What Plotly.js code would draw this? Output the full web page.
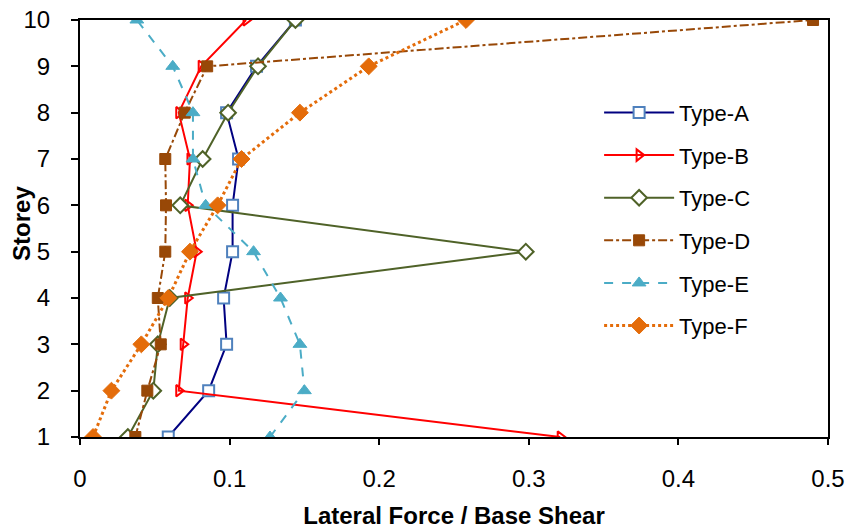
<!DOCTYPE html>
<html>
<head>
<meta charset="utf-8">
<script src="https://cdn.plot.ly/plotly-3.0.1.min.js"></script>
<style>body{margin:0;padding:0;background:#fff;}#chart{width:855px;height:531px;}</style>
</head>
<body>
<div id="chart"></div>
<script>
const storeys = [1, 2, 3, 4, 5, 6, 7, 8, 9, 10];
const typeA = [0.059, 0.086, 0.098, 0.096, 0.102, 0.102, 0.106, 0.098, 0.118, 0.144];
const typeB = [0.321, 0.066, 0.069, 0.072, 0.078, 0.072, 0.0735, 0.066, 0.081, 0.111];
const typeC = [0.032, 0.049, 0.052, 0.060, 0.298, 0.067, 0.082, 0.099, 0.119, 0.144];
const typeD = [0.037, 0.045, 0.054, 0.052, 0.057, 0.0575, 0.057, 0.070, 0.085, 0.490];
const typeE = [0.127, 0.150, 0.147, 0.134, 0.116, 0.084, 0.0755, 0.0755, 0.062, 0.038];
const typeF = [0.0087, 0.021, 0.041, 0.059, 0.0735, 0.092, 0.108, 0.147, 0.193, 0.258];
const names = ["Type-A", "Type-B", "Type-C", "Type-D", "Type-E", "Type-F"];
const xTicks = [0, 0.1, 0.2, 0.3, 0.4, 0.5];
const xTickText = ["0", "0.1", "0.2", "0.3", "0.4", "0.5"];
const yTicks = [1, 2, 3, 4, 5, 6, 7, 8, 9, 10];
const yTitle = "Storey";
const xTitle = "Lateral Force / Base Shear";

const series = [typeA, typeB, typeC, typeD, typeE, typeF];
const styles = [
  {line: {color: '#000080', width: 2, dash: 'solid'}, marker: {symbol: 'square', size: 11, color: '#ffffff', line: {color: '#4F81BD', width: 2}}},
  {line: {color: '#FF0000', width: 2, dash: 'solid'}, marker: {symbol: 'triangle-right-open', size: 10, color: '#FF0000', line: {color: '#FF0000', width: 2}}},
  {line: {color: '#4F6228', width: 2, dash: 'solid'}, marker: {symbol: 'diamond', size: 12, color: '#ffffff', line: {color: '#4F6228', width: 2}}},
  {line: {color: '#984807', width: 2, dash: 'dashdot'}, marker: {symbol: 'square', size: 11, color: '#984807', line: {color: '#984807', width: 1}}},
  {line: {color: '#4BACC6', width: 2, dash: 'dash'}, marker: {symbol: 'triangle-up', size: 12, color: '#4BACC6', line: {color: '#4BACC6', width: 1}}},
  {line: {color: '#E46C0A', width: 3, dash: 'dot'}, marker: {symbol: 'diamond', size: 13, color: '#E46C0A', line: {color: '#E46C0A', width: 1}}}
];

const traces = series.map((s, i) => ({
  x: s, y: storeys, type: 'scatter', mode: 'lines+markers', name: names[i],
  legendgroup: names[i],
  line: styles[i].line, marker: styles[i].marker
}));

const layout = {
  width: 855, height: 531,
  margin: {l: 80, r: 27, t: 20, b: 94},
  paper_bgcolor: '#fff', plot_bgcolor: '#fff',
  font: {family: 'Liberation Sans, Arial, sans-serif', color: '#000'},
  showlegend: true,
  legend: {x: 0.694, y: 0.828, xanchor: 'left', yanchor: 'top', font: {size: 22}, itemwidth: 70, tracegroupgap: 11, bgcolor: 'rgba(0,0,0,0)'},
  xaxis: {
    range: [0, 0.5], tickvals: xTicks, ticktext: xTickText,
    showgrid: false, zeroline: false, showline: true, linecolor: '#000', linewidth: 2, mirror: true,
    ticks: 'outside', ticklen: 6, tickcolor: '#000', tickwidth: 2, tickfont: {size: 24}, ticklabelstandoff: 13,
    title: {text: '<b>' + xTitle + '</b>', font: {size: 24}, standoff: 16}
  },
  yaxis: {
    range: [1, 10], tickvals: yTicks,
    showgrid: false, zeroline: false, showline: true, linecolor: '#000', linewidth: 2, mirror: true,
    ticks: 'outside', ticklen: 7, tickcolor: '#000', tickwidth: 2, tickfont: {size: 24}, ticklabelstandoff: 16
  },
  annotations: [{
    text: '<b>' + yTitle + '</b>', xref: 'paper', yref: 'paper', x: -0.0775, y: 0.511,
    xanchor: 'center', yanchor: 'middle', textangle: -90, showarrow: false, font: {size: 24}
  }]
};

Plotly.newPlot('chart', traces, layout, {staticPlot: true});
</script>
</body>
</html>
